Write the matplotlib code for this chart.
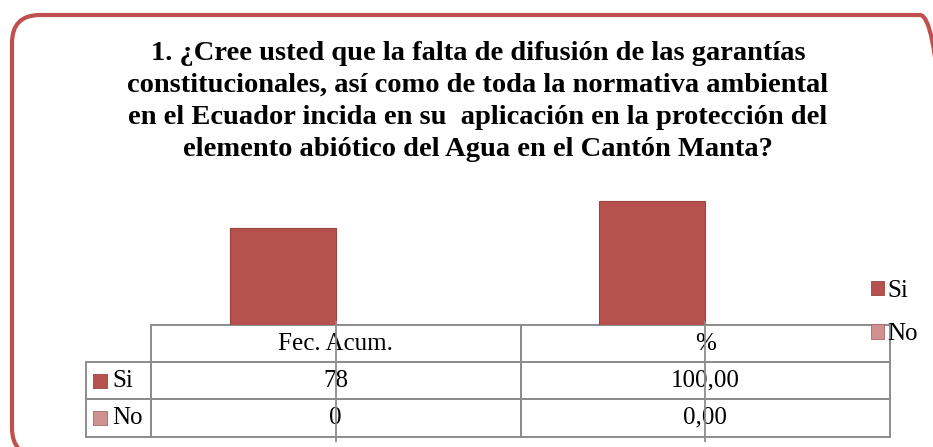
import matplotlib
matplotlib.use("Agg")
import matplotlib.pyplot as plt
from matplotlib.patches import FancyBboxPatch, Patch
from matplotlib.table import Table

# data
title = ("1. ¿Cree usted que la falta de difusión de las garantías\n"
         "constitucionales, así como de toda la normativa ambiental\n"
         "en el Ecuador incida en su  aplicación en la protección del\n"
         "elemento abiótico del Agua en el Cantón Manta?")
categories = ["Fec. Acum.", "%"]
series = ["Si", "No"]
si_values = [78, 100]
no_values = [0, 0]
cell_text = [["78", "100,00"],
             ["0", "0,00"]]
colors = ["#b7514e", "#d0918f"]
edges = ["#9a4340", "#a86866"]

plt.rcParams["font.family"] = ["Liberation Serif", "DejaVu Serif"]

W, H = 933, 447
fig = plt.figure(figsize=(W / 100, H / 100), dpi=100)

# frame around the chart, in pixels (origin bottom left)
frame = FancyBboxPatch((12, H - 456), 936, 441,
                       boxstyle="round,pad=0,rounding_size=28",
                       lw=3, ec="#c0504d", fc="none", transform=None)
fig.add_artist(frame)

fig.text(478 / W, 1 - 41 / H, title, ha="center", va="top", fontsize=20.5,
         fontweight="bold", linespacing=1.36, multialignment="center")

# plot area in pixels
ax_l, ax_r, ax_b, ax_t = 151, 890, 325, 170
ax = fig.add_axes([ax_l / W, (H - ax_b) / H, (ax_r - ax_l) / W, (ax_b - ax_t) / H])


def fx(px):
    return (px - ax_l) / (ax_r - ax_l)


def fy(py):
    return (ax_b - py) / (ax_b - ax_t)


x = list(range(len(categories)))
w = 0.287
ax.bar([i - w / 2 for i in x], si_values, w, color=colors[0],
       edgecolor=edges[0], linewidth=0.8, label=series[0])
ax.bar([i + w / 2 for i in x], no_values, w, color=colors[1],
       edgecolor=edges[1], linewidth=0.8, label=series[1])
ax.set_xlim(-0.5, len(categories) - 0.5)
ax.set_ylim(0, 125)
ax.set_xticks([])
ax.set_yticks([])
for s in ax.spines.values():
    s.set_visible(False)

grid_c = "#8c8c8c"
# category tick lines crossing the data table
ax.vlines(x, fy(442), fy(321), transform=ax.get_xaxis_transform(),
          color=grid_c, lw=1.3, clip_on=False)

# data table (bbox covers the value cells, the row labels hang to the left)
lab_w = fx(151) - fx(86)
col_w = 0.5
row_h = 1 / 3
tb = Table(ax, bbox=[0, fy(436.5), 1, fy(325) - fy(436.5)])
for j, cat in enumerate(categories):
    tb.add_cell(0, j, col_w, row_h, text=cat, loc="center",
                edgecolor=grid_c, facecolor="none")
for i, name in enumerate(series):
    c = tb.add_cell(i + 1, -1, lab_w, row_h, text=name, loc="left",
                    edgecolor=grid_c, facecolor="none")
    c.PAD = 0.40
    for j in range(len(categories)):
        tb.add_cell(i + 1, j, col_w, row_h, text=cell_text[i][j], loc="center",
                    edgecolor=grid_c, facecolor="none")
tb.auto_set_font_size(False)
tb.set_fontsize(18)
for cell in tb.get_celld().values():
    cell.set_linewidth(1.4)
ax.add_table(tb)

# legend keys in the row labels
for i, name in enumerate(series):
    ax.scatter(fx(100), fy(380.5 + 37 * i), marker="s", s=90, color=colors[i],
               edgecolor=edges[i], linewidth=0.6,
               transform=ax.transAxes, clip_on=False)

handles = [Patch(facecolor=colors[i], edgecolor=edges[i], linewidth=0.6)
           for i in range(len(series))]
fig.legend(handles, series, loc="upper left", bbox_to_anchor=(871 / W, 1 - 280 / H),
           frameon=False, fontsize=18, handlelength=0.5, handleheight=0.5,
           handletextpad=0.15, labelspacing=0.85, borderpad=0, borderaxespad=0)

fig.savefig("out.png", dpi=100)
